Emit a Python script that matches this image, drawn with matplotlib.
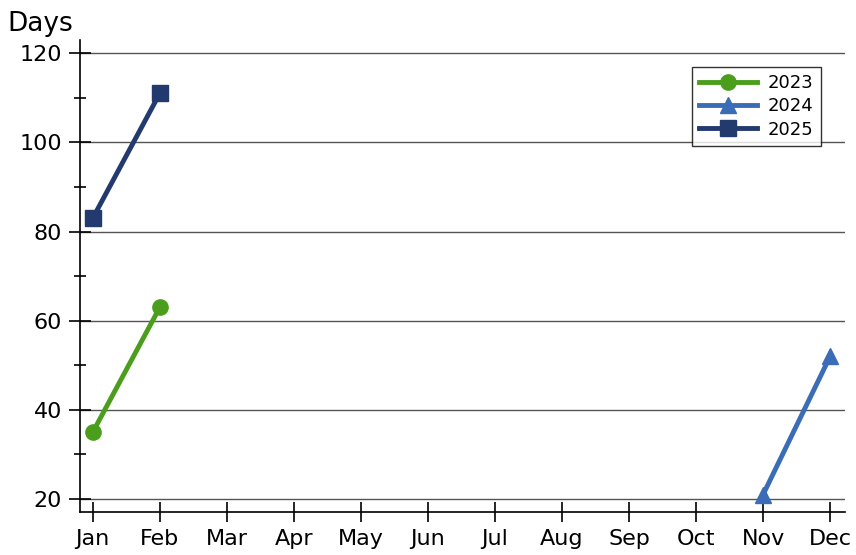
import matplotlib.pyplot as plt
from matplotlib.ticker import MultipleLocator

months = ["Jan", "Feb", "Mar", "Apr", "May", "Jun", "Jul", "Aug", "Sep", "Oct", "Nov", "Dec"]

# values per series (month index, days)
x_2023 = [0, 1]
y_2023 = [35, 63]
x_2024 = [10, 11]
y_2024 = [21, 52]
x_2025 = [0, 1]
y_2025 = [83, 111]

plt.rcParams['font.family'] = ['DejaVu Sans']

fig = plt.figure(figsize=(8.56, 5.55), dpi=100)
ax = fig.add_axes([0.0935, 0.0775, 0.8935, 0.85])

ax.plot(x_2023, y_2023, color="#4a9e1c", lw=3.5, marker="o", ms=11, label="2023")
ax.plot(x_2024, y_2024, color="#3a6db5", lw=3.5, marker="^", ms=12, label="2024")
ax.plot(x_2025, y_2025, color="#223a6e", lw=3.5, marker="s", ms=11, label="2025")

ax.set_xlim(-0.19, 11.22)
ax.set_ylim(17.1, 122.9)
ax.set_xticks(range(len(months)))
ax.set_xticklabels(months)
ax.yaxis.set_major_locator(MultipleLocator(20))
ax.yaxis.set_minor_locator(MultipleLocator(10))

ax.grid(axis="y", which="major", color="#555555", lw=1)
ax.set_axisbelow(True)
for s in ["top", "right"]:
    ax.spines[s].set_visible(False)
ax.spines["left"].set_linewidth(1.2)
ax.spines["bottom"].set_linewidth(1.2)

ax.tick_params(axis="y", which="major", direction="inout", length=16, width=1.2, labelsize=16, pad=5)
ax.tick_params(axis="y", which="minor", direction="inout", length=8, width=1.2)
ax.tick_params(axis="x", which="major", direction="inout", length=15, width=1.2, labelsize=16, pad=5)

fig.text(0.009, 0.945, "Days", fontsize=19)

leg = ax.legend(loc="upper right", bbox_to_anchor=(0.98, 0.962), fontsize=13,
                frameon=True, fancybox=False, edgecolor="black", handlelength=3.2,
                labelspacing=0.28, borderpad=0.4, handletextpad=0.6)
leg.get_frame().set_linewidth(1)

fig.savefig("out.png", dpi=100)
